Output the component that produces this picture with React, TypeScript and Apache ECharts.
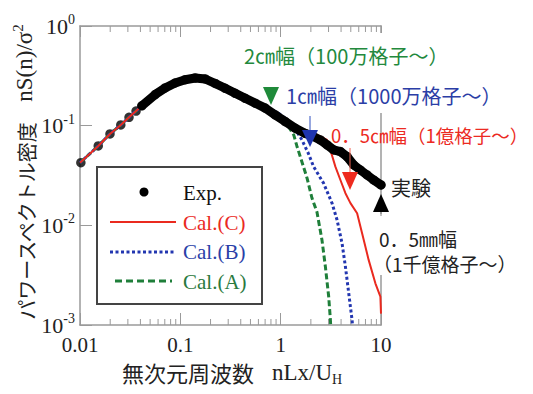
import React, { useEffect, useRef } from "react";
import * as echarts from "echarts";

// Experimental spectrum (Exp.)
const expData: [number, number][] = [
  [0.0102, 0.0425], [0.0152, 0.0626], [0.0199, 0.0826], [0.0255, 0.1016], [0.0308, 0.1214],
  [0.0362, 0.14], [0.0413, 0.158],
  [0.0561, 0.205], [0.0705, 0.239], [0.0887, 0.268], [0.1117, 0.289], [0.1406, 0.301],
  [0.177, 0.294], [0.2225, 0.265], [0.28, 0.237], [0.352, 0.211], [0.443, 0.188], [0.558, 0.168],
  [0.702, 0.15], [0.883, 0.128], [1.11, 0.11], [1.4, 0.0942], [1.76, 0.0835], [1.97, 0.0807],
  [2.48, 0.0719], [2.9, 0.064], [3.37, 0.0571], [3.94, 0.0549], [4.59, 0.0489], [5.35, 0.0403],
  [6.23, 0.0359], [7.26, 0.032], [8.46, 0.0285], [10, 0.0254],
];

// Low-frequency part common to all calculations
const calShared: [number, number][] = [
  [0.01, 0.0425], [0.0152, 0.0626], [0.0199, 0.0826], [0.0255, 0.1016], [0.0308, 0.1214],
  [0.0362, 0.14], [0.0413, 0.158], [0.0561, 0.205], [0.0705, 0.239], [0.0887, 0.269],
  [0.1117, 0.291], [0.1406, 0.303], [0.177, 0.296], [0.2225, 0.266], [0.28, 0.238],
  [0.352, 0.212], [0.443, 0.189],
];

const calCTail: [number, number][] = [
  [0.558, 0.168], [0.702, 0.15], [0.883, 0.128], [1.11, 0.11], [1.34, 0.0975], [2.13, 0.0839],
  [2.9, 0.0719], [3.13, 0.0571], [3.51, 0.0388], [3.94, 0.0285], [4.42, 0.021], [4.96, 0.0167],
  [5.78, 0.0132], [6.48, 0.00834], [7.53, 0.0045], [8.79, 0.00262], [9.86, 0.00193], [10, 0.0013],
];

const calBTail: [number, number][] = [
  [0.558, 0.166], [0.601, 0.161], [0.757, 0.15], [0.953, 0.133], [1.11, 0.1186], [1.3, 0.1016],
  [1.45, 0.0871], [1.63, 0.0719], [1.88, 0.0532], [2.13, 0.0388], [2.68, 0.0264], [3.25, 0.0167],
  [3.65, 0.0113], [4.09, 0.0066], [4.42, 0.00385], [4.77, 0.00208], [5.15, 0.00112], [5.2, 0.001],
];

const calATail: [number, number][] = [
  [0.558, 0.168], [0.702, 0.15], [0.883, 0.128], [1.11, 0.11], [1.35, 0.0807], [1.45, 0.0626],
  [1.63, 0.0432], [1.83, 0.0299], [2.05, 0.0188], [2.3, 0.0136], [2.58, 0.00714], [2.79, 0.00385],
  [3.01, 0.00193], [3.13, 0.00113], [3.15, 0.001],
];

const minorTickValues: number[] = [
  0.02, 0.03, 0.04, 0.05, 0.06, 0.07, 0.08, 0.09,
  0.2, 0.3, 0.4, 0.5, 0.6, 0.7, 0.8, 0.9,
  2, 3, 4, 5, 6, 7, 8, 9,
];

const legendLabels = ["Exp.", "Cal.(C)", "Cal.(B)", "Cal.(A)"];

const RED = "#ea2a1f";
const BLUE = "#2236b0";
const GREEN = "#1f7f3a";
const AXIS = "#9a9a9a";
const SERIF = "'Liberation Serif', 'Times New Roman', serif";
const JP = "'Noto Sans CJK JP', sans-serif";

export default function App() {
  const ref = useRef<HTMLDivElement>(null);
  useEffect(() => {
    if (!ref.current) return;
    const chart = echarts.init(ref.current, undefined, { renderer: "svg" });
    const calC = calShared.concat(calCTail);
    const calB = calShared.concat(calBTail);
    const calA = calShared.concat(calATail);

    const annoText = (text: string, x: number, y: number, color: string, size = 20) => ({
      type: "text",
      x,
      y,
      z: 60,
      style: {
        text,
        fill: color,
        font: `${size}px ${JP}`,
        textAlign: "left",
        textVerticalAlign: "middle",
      },
    });
    const tri = (pts: number[][], color: string) => ({
      type: "polygon",
      z: 60,
      shape: { points: pts },
      style: { fill: color },
    });
    const vline = (x: number, y1: number, y2: number, color: string, w = 1) => ({
      type: "line",
      z: 59,
      shape: { x1: x, y1, x2: x, y2 },
      style: { stroke: color, lineWidth: w },
    });

    chart.setOption({
      animation: false,
      backgroundColor: "#fff",
      grid: { left: 80, right: 152, top: 26, bottom: 69 },
      xAxis: [
        {
          type: "log",
          logBase: 10,
          min: 0.01,
          max: 10,
          position: "bottom",
          axisLine: { show: true, lineStyle: { color: AXIS, width: 1.5 } },
          axisTick: { show: true, inside: true, length: 12, lineStyle: { color: AXIS, width: 1 } },
          axisLabel: {
            margin: 9,
            fontFamily: SERIF,
            fontSize: 21,
            color: "#222",
            formatter: (v: number) => String(Number(v.toPrecision(3))),
          },
          splitLine: { show: false },
        },
        {
          type: "log",
          logBase: 10,
          min: 0.01,
          max: 10,
          position: "top",
          axisLine: { show: true, lineStyle: { color: AXIS, width: 1.5 } },
          axisTick: { show: true, inside: true, length: 11, lineStyle: { color: AXIS, width: 1 } },
          axisLabel: { show: false },
          splitLine: { show: false },
        },
      ],
      yAxis: [
        {
          type: "log",
          logBase: 10,
          min: 0.001,
          max: 1,
          position: "left",
          axisLine: { show: true, lineStyle: { color: AXIS, width: 1.5 } },
          axisTick: { show: true, inside: true, length: 12, lineStyle: { color: AXIS, width: 1 } },
          axisLabel: {
            margin: 5,
            formatter: (v: number) => `{b|10}{s|${Math.round(Math.log10(v))}}`,
            rich: {
              b: { fontFamily: SERIF, fontSize: 22, color: "#222" },
              s: { fontFamily: SERIF, fontSize: 14, color: "#222", padding: [0, 0, 13, 0] },
            },
          },
          splitLine: { show: false },
        },
        {
          type: "log",
          logBase: 10,
          min: 0.001,
          max: 1,
          position: "right",
          axisLine: { show: true, lineStyle: { color: AXIS, width: 1.5 } },
          axisTick: { show: false },
          axisLabel: { show: false },
          splitLine: { show: false },
        },
      ],
      series: [
        {
          type: "custom",
          name: "minorTicks",
          silent: true,
          data: minorTickValues.map((v) => [v, 0.001]),
          renderItem: (params: any, api: any) => {
            const v = api.value(0);
            const b = api.coord([v, 0.001]);
            const t = api.coord([v, 1]);
            const st = { stroke: AXIS, lineWidth: 1 };
            return {
              type: "group",
              children: [
                { type: "line", shape: { x1: b[0], y1: b[1], x2: b[0], y2: b[1] - 6 }, style: st },
                { type: "line", shape: { x1: t[0], y1: t[1], x2: t[0], y2: t[1] + 6 }, style: st },
              ],
            };
          },
        },
        {
          name: "Cal.(A)",
          type: "line",
          data: calA,
          showSymbol: false,
          lineStyle: { color: GREEN, width: 3, type: [6, 3] },
        },
        {
          name: "Cal.(B)",
          type: "line",
          data: calB,
          showSymbol: false,
          lineStyle: { color: BLUE, width: 3, type: [3, 2.5] },
        },
        {
          name: "Cal.(C)",
          type: "line",
          data: calC,
          showSymbol: false,
          lineStyle: { color: RED, width: 2 },
        },
        {
          name: "Exp.",
          type: "line",
          data: expData.slice(6),
          showSymbol: false,
          lineStyle: { color: "#000", width: 9, cap: "round", join: "round" },
        },
        {
          name: "Exp.",
          type: "scatter",
          data: expData,
          symbol: "circle",
          symbolSize: 9.5,
          itemStyle: { color: "#000" },
        },
      ],
      graphic: [
        // hide right frame segments (as in the reference)
        { type: "rect", z: 55, shape: { x: 377, y: 33, width: 8, height: 80 }, style: { fill: "#fff" } },
        { type: "rect", z: 55, shape: { x: 377, y: 214, width: 8, height: 61 }, style: { fill: "#fff" } },
        // legend
        {
          type: "rect",
          z: 50,
          shape: { x: 97, y: 167, width: 165, height: 137 },
          style: { fill: "#fff", stroke: "#444", lineWidth: 2 },
        },
        { type: "circle", z: 51, shape: { cx: 144, cy: 192, r: 4.5 }, style: { fill: "#000" } },
        { type: "line", z: 51, shape: { x1: 110, y1: 222, x2: 176, y2: 222 }, style: { stroke: RED, lineWidth: 2 } },
        {
          type: "line",
          z: 51,
          shape: { x1: 110, y1: 252, x2: 176, y2: 252 },
          style: { stroke: BLUE, lineWidth: 3, lineDash: [3, 2.5] },
        },
        {
          type: "line",
          z: 51,
          shape: { x1: 115, y1: 281, x2: 172, y2: 281 },
          style: { stroke: GREEN, lineWidth: 3, lineDash: [7, 4] },
        },
        ...legendLabels.map((t, i) => ({
          type: "text",
          z: 51,
          x: 183,
          y: 193 + i * 29.5,
          style: {
            text: t,
            fill: ["#111", RED, "#2a3fa8", "#2a7a40"][i],
            font: `21px ${SERIF}`,
            textAlign: "left",
            textVerticalAlign: "middle",
          },
        })),
        // annotations
        annoText("2㎝幅（100万格子～）", 244, 55, "#23893d"),
        annoText("1㎝幅（1000万格子～）", 286, 95, "#2b3ea6"),
        annoText("0．5㎝幅（1億格子～）", 331, 135, "#ec2a22", 18.5),
        annoText("実験", 391, 187, "#222"),
        annoText("0．5㎜幅", 379, 238, "#222", 19),
        annoText("（1千億格子～）", 373, 263, "#222", 19),
        tri([[263, 87], [279, 87], [271, 105]], "#1f8a3a"),
        vline(310, 116, 131, "#3050c0"),
        tri([[302, 130], [318, 130], [310, 147]], "#1f35b0"),
        vline(350, 148, 173, "#f06050"),
        tri([[342, 172], [358, 172], [350, 190]], "#ee2a1e"),
        tri([[381, 194], [373, 212], [389, 212]], "#000"),
        vline(381, 212, 216, "#888"),
        // axis titles
        {
          type: "text",
          z: 40,
          x: 122,
          y: 372,
          style: {
            text: "無次元周波数",
            font: `22px ${JP}`,
            fill: "#222",
            textAlign: "left",
            textVerticalAlign: "middle",
          },
        },
        {
          type: "text",
          z: 40,
          x: 272,
          y: 372,
          style: {
            text: "{n|nLx/U}{sub|H}",
            textAlign: "left",
            textVerticalAlign: "middle",
            rich: {
              n: { font: `23px ${SERIF}`, fill: "#222" },
              sub: { font: `14px ${SERIF}`, fill: "#222", padding: [14, 0, 0, 0] },
            },
          },
        },
        {
          type: "text",
          z: 40,
          x: 26,
          y: 221,
          rotation: Math.PI / 2,
          style: {
            text: "パワースペクトル密度",
            font: `20px ${JP}`,
            fill: "#222",
            textAlign: "center",
            textVerticalAlign: "middle",
          },
        },
        {
          type: "text",
          z: 40,
          x: 24,
          y: 63,
          rotation: Math.PI / 2,
          style: {
            text: "{n|nS(n)/σ}{sup|2}",
            textAlign: "center",
            textVerticalAlign: "middle",
            rich: {
              n: { font: `23px ${SERIF}`, fill: "#222" },
              sup: { font: `15px ${SERIF}`, fill: "#222", padding: [0, 0, 13, 0] },
            },
          },
        },
      ],
    });
    return () => chart.dispose();
  }, []);
  return (
    <div
      ref={ref}
      style={{ position: "fixed", left: 0, top: 0, width: 533, height: 394 }}
    />
  );
}
